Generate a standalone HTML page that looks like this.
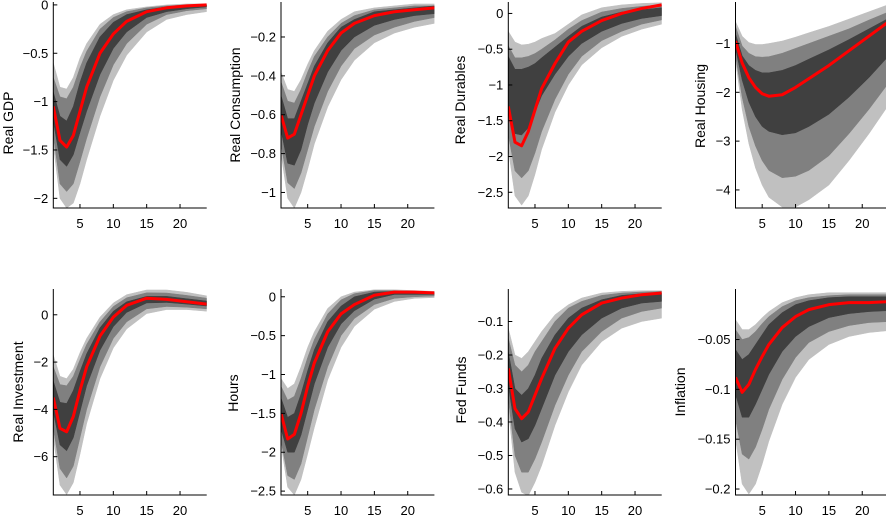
<!DOCTYPE html>
<html><head><meta charset="utf-8"><style>
html,body{margin:0;padding:0;background:#fff;width:886px;height:516px;overflow:hidden}
svg{display:block}
text{font-family:"Liberation Sans",sans-serif;fill:#000}
</style></head><body>
<svg id="chart" width="886" height="516" viewBox="0 0 886 516" xmlns="http://www.w3.org/2000/svg"></svg>
<script>
const horizons=[1,2,3,4,5,6,8,10,12,15,18,21,24];
const xTicks=[5,10,15,20];
const titles=["Real GDP","Real Consumption","Real Durables","Real Housing","Real Investment","Hours","Fed Funds","Inflation"];
const yLims=[[-2.1,0.03],[-1.08,-0.02],[-2.72,0.16],[-4.37,-0.15],[-7.62,1.09],[-2.55,0.1],[-0.618,-0.003],[-0.206,0.0007]];
const yTicks=[[0,-0.5,-1,-1.5,-2],[-0.2,-0.4,-0.6,-0.8,-1],[0,-0.5,-1,-1.5,-2,-2.5],[-1,-2,-3,-4],[0,-2,-4,-6],[0,-0.5,-1,-1.5,-2,-2.5],[-0.1,-0.2,-0.3,-0.4,-0.5,-0.6],[-0.05,-0.1,-0.15,-0.2]];
const yTickLabels=[["0","−0.5","−1","−1.5","−2"],["−0.2","−0.4","−0.6","−0.8","−1"],["0","−0.5","−1","−1.5","−2","−2.5"],["−1","−2","−3","−4"],["0","−2","−4","−6"],["0","−0.5","−1","−1.5","−2","−2.5"],["−0.1","−0.2","−0.3","−0.4","−0.5","−0.6"],["−0.05","−0.1","−0.15","−0.2"]];
const median=[
[-1.05,-1.4,-1.47,-1.35,-1.1,-0.85,-0.5,-0.3,-0.17,-0.07,-0.03,-0.01,0],
[-0.6,-0.72,-0.7,-0.6,-0.5,-0.4,-0.27,-0.18,-0.13,-0.09,-0.07,-0.06,-0.05],
[-1.3,-1.8,-1.85,-1.65,-1.35,-1.05,-0.7,-0.4,-0.25,-0.1,0,0.07,0.12],
[-0.95,-1.4,-1.7,-1.9,-2.03,-2.08,-2.05,-1.9,-1.72,-1.45,-1.15,-0.85,-0.55],
[-3.5,-4.8,-4.95,-4.3,-3.2,-2.2,-0.9,-0.1,0.4,0.7,0.65,0.55,0.45],
[-1.5,-1.83,-1.77,-1.5,-1.15,-0.85,-0.45,-0.22,-0.1,0.02,0.06,0.06,0.05],
[-0.24,-0.36,-0.39,-0.37,-0.32,-0.27,-0.18,-0.12,-0.08,-0.045,-0.03,-0.02,-0.015],
[-0.088,-0.103,-0.095,-0.08,-0.067,-0.055,-0.038,-0.027,-0.02,-0.015,-0.013,-0.013,-0.012]];
const lightUpper=[
[-0.6,-0.85,-0.87,-0.75,-0.55,-0.4,-0.2,-0.1,-0.05,-0.02,0,0.01,0.01],
[-0.38,-0.47,-0.48,-0.42,-0.34,-0.27,-0.17,-0.11,-0.07,-0.05,-0.04,-0.03,-0.03],
[-0.25,-0.4,-0.44,-0.43,-0.4,-0.35,-0.28,-0.15,-0.02,0.08,0.12,0.14,0.15],
[-0.55,-0.85,-0.98,-1.02,-1.02,-1.0,-0.95,-0.87,-0.78,-0.65,-0.5,-0.35,-0.2],
[-1.7,-2.6,-2.7,-2.3,-1.6,-1.0,-0.1,0.5,0.85,1.05,1.05,0.95,0.8],
[-1.05,-1.18,-1.12,-0.9,-0.65,-0.45,-0.15,0.0,0.06,0.09,0.09,0.08,0.07],
[-0.12,-0.2,-0.21,-0.19,-0.16,-0.13,-0.08,-0.05,-0.03,-0.015,-0.01,-0.008,-0.008],
[-0.03,-0.04,-0.04,-0.035,-0.028,-0.022,-0.013,-0.008,-0.005,-0.003,-0.003,-0.003,-0.003]];
const midUpper=[
[-0.75,-0.95,-0.97,-0.85,-0.65,-0.48,-0.25,-0.13,-0.07,-0.03,-0.01,0,0],
[-0.43,-0.53,-0.54,-0.47,-0.38,-0.3,-0.2,-0.13,-0.09,-0.06,-0.05,-0.04,-0.04],
[-0.45,-0.62,-0.62,-0.6,-0.56,-0.5,-0.37,-0.22,-0.1,0.02,0.07,0.1,0.12],
[-0.65,-1.05,-1.2,-1.27,-1.28,-1.27,-1.2,-1.1,-1.0,-0.85,-0.7,-0.52,-0.35],
[-2.2,-2.95,-3.0,-2.6,-1.9,-1.25,-0.3,0.35,0.72,0.93,0.92,0.82,0.7],
[-1.15,-1.33,-1.28,-1.05,-0.78,-0.55,-0.22,-0.04,0.04,0.08,0.08,0.07,0.06],
[-0.15,-0.23,-0.25,-0.23,-0.19,-0.16,-0.1,-0.06,-0.04,-0.022,-0.015,-0.012,-0.01],
[-0.04,-0.05,-0.048,-0.042,-0.034,-0.027,-0.017,-0.011,-0.008,-0.006,-0.005,-0.005,-0.005]];
const darkUpper=[
[-0.9,-1.15,-1.2,-1.05,-0.8,-0.6,-0.33,-0.18,-0.1,-0.05,-0.02,-0.01,0],
[-0.5,-0.62,-0.62,-0.53,-0.44,-0.35,-0.23,-0.15,-0.11,-0.07,-0.06,-0.05,-0.04],
[-0.6,-0.78,-0.78,-0.75,-0.7,-0.62,-0.47,-0.32,-0.18,-0.05,0.02,0.05,0.08],
[-0.8,-1.25,-1.45,-1.55,-1.6,-1.6,-1.55,-1.45,-1.32,-1.13,-0.92,-0.7,-0.48],
[-2.8,-3.7,-3.75,-3.2,-2.4,-1.65,-0.55,0.15,0.55,0.78,0.78,0.68,0.58],
[-1.3,-1.55,-1.5,-1.25,-0.95,-0.68,-0.32,-0.12,0.0,0.06,0.07,0.06,0.05],
[-0.19,-0.3,-0.32,-0.3,-0.26,-0.21,-0.14,-0.09,-0.06,-0.035,-0.022,-0.017,-0.015],
[-0.06,-0.07,-0.065,-0.055,-0.045,-0.035,-0.023,-0.015,-0.011,-0.008,-0.007,-0.007,-0.007]];
const darkLower=[
[-1.2,-1.6,-1.67,-1.55,-1.32,-1.1,-0.72,-0.45,-0.28,-0.13,-0.07,-0.04,-0.02],
[-0.68,-0.85,-0.86,-0.78,-0.65,-0.54,-0.38,-0.27,-0.2,-0.14,-0.11,-0.09,-0.08],
[-1.4,-1.68,-1.7,-1.6,-1.38,-1.15,-0.85,-0.6,-0.42,-0.25,-0.14,-0.07,-0.03],
[-1.1,-1.75,-2.2,-2.5,-2.7,-2.8,-2.87,-2.83,-2.7,-2.45,-2.1,-1.7,-1.25],
[-4.1,-5.5,-5.75,-5.2,-4.1,-3.0,-1.5,-0.5,0.1,0.5,0.52,0.45,0.37],
[-1.7,-2.0,-2.0,-1.78,-1.45,-1.12,-0.65,-0.35,-0.18,-0.03,0.03,0.03,0.03],
[-0.29,-0.42,-0.46,-0.45,-0.41,-0.36,-0.26,-0.19,-0.14,-0.09,-0.06,-0.045,-0.04],
[-0.105,-0.128,-0.128,-0.115,-0.1,-0.085,-0.062,-0.047,-0.037,-0.028,-0.024,-0.022,-0.021]];
const midLower=[
[-1.35,-1.85,-1.93,-1.85,-1.62,-1.38,-0.95,-0.62,-0.4,-0.2,-0.1,-0.06,-0.04],
[-0.75,-0.95,-0.98,-0.9,-0.78,-0.66,-0.48,-0.35,-0.26,-0.19,-0.15,-0.12,-0.1],
[-1.7,-2.2,-2.3,-2.2,-1.95,-1.65,-1.2,-0.85,-0.6,-0.38,-0.25,-0.15,-0.09],
[-1.25,-2.1,-2.7,-3.1,-3.4,-3.6,-3.75,-3.72,-3.6,-3.3,-2.85,-2.35,-1.8],
[-4.8,-6.5,-6.9,-6.4,-5.2,-4.0,-2.2,-1.0,-0.3,0.25,0.35,0.32,0.25],
[-1.85,-2.3,-2.35,-2.15,-1.8,-1.45,-0.9,-0.5,-0.28,-0.1,-0.02,0.0,0.01],
[-0.33,-0.5,-0.55,-0.55,-0.51,-0.46,-0.35,-0.26,-0.19,-0.13,-0.09,-0.07,-0.06],
[-0.13,-0.165,-0.17,-0.158,-0.14,-0.12,-0.09,-0.068,-0.053,-0.042,-0.036,-0.033,-0.032]];
const lightLower=[
[-1.45,-2.0,-2.1,-2.05,-1.85,-1.6,-1.15,-0.78,-0.52,-0.28,-0.15,-0.1,-0.07],
[-0.8,-1.03,-1.08,-1.0,-0.88,-0.75,-0.56,-0.42,-0.32,-0.23,-0.18,-0.15,-0.13],
[-1.9,-2.55,-2.68,-2.55,-2.25,-1.9,-1.38,-1.0,-0.72,-0.48,-0.32,-0.22,-0.15],
[-1.35,-2.35,-3.05,-3.55,-3.9,-4.15,-4.35,-4.35,-4.2,-3.9,-3.4,-2.85,-2.25],
[-5.2,-7.2,-7.6,-7.1,-5.9,-4.6,-2.7,-1.4,-0.6,0.05,0.22,0.22,0.15],
[-1.9,-2.45,-2.55,-2.35,-2.02,-1.68,-1.07,-0.65,-0.38,-0.16,-0.06,-0.02,-0.01],
[-0.36,-0.55,-0.61,-0.62,-0.58,-0.53,-0.41,-0.31,-0.23,-0.16,-0.12,-0.1,-0.09],
[-0.15,-0.195,-0.205,-0.195,-0.175,-0.152,-0.115,-0.088,-0.07,-0.055,-0.047,-0.043,-0.041]];

const NS="http://www.w3.org/2000/svg";
const svg=document.getElementById('chart');
const lefts=[53.3,281,508.3,735.5];
const tops=[2,289];
const plotH=[206,206];
const unit=6.67;
const labelPos=[[8,123],[235,105],[460,100],[700,106],[18,392],[233,393],[461,390],[680,392]];
function mk(tag,attrs,parent){const e=document.createElementNS(NS,tag);for(const k in attrs)e.setAttribute(k,attrs[k]);parent.appendChild(e);return e;}

for(let p=0;p<8;p++){
  const col=p%4,row=Math.floor(p/4);
  const L=lefts[col],T=tops[row],H=plotH[row],B=T+H;
  const [ymin,ymax]=yLims[p];
  const xs=h=>L+(h-1)*unit;
  const ys=v=>T+(ymax-v)/(ymax-ymin)*H;
  const g=mk('g',{},svg);
  
  
  const cp=mk('clipPath',{id:'cp'+p},g);
  mk('rect',{x:L,y:T,width:23*unit,height:H},cp);
  const pg=mk('g',{'clip-path':'url(#cp'+p+')'},g);
  const bands=[[lightUpper,lightLower,'#c0c0c0','band-90'],[midUpper,midLower,'#808080','band-80'],[darkUpper,darkLower,'#404040','band-68']];
  for(const [up,lo,c,nm] of bands){
    const pts=horizons.map((h,i)=>xs(h)+','+ys(up[p][i]));
    for(let i=horizons.length-1;i>=0;i--)pts.push(xs(horizons[i])+','+ys(lo[p][i]));
    const poly=mk('polygon',{points:pts.join(' '),fill:c,stroke:c,'stroke-width':0.5},pg);
    
    
  }
  const line=mk('polyline',{points:horizons.map((h,i)=>xs(h)+','+ys(median[p][i])).join(' '),fill:'none',stroke:'#ff0000','stroke-width':3,'stroke-linejoin':'round'},pg);
  
  
  const ax=mk('path',{d:`M${L},${T}V${B}H${L+23*unit}`,fill:'none',stroke:'#000','stroke-width':1},g);
  
  
  yTicks[p].forEach((v,i)=>{
    const y=ys(v);
    mk('line',{x1:L,x2:L+4,y1:y,y2:y,stroke:'#000','stroke-width':1},g);
    const t=mk('text',{x:L-5,y:y+4.5,'text-anchor':'end','font-size':13},g);
    t.textContent=yTickLabels[p][i];
    
    
  });
  xTicks.forEach(h=>{
    const x=xs(h);
    mk('line',{x1:x,x2:x,y1:B,y2:B-4,stroke:'#000','stroke-width':1},g);
    const t=mk('text',{x:x,y:B+20,'text-anchor':'middle','font-size':13},g);
    t.textContent=String(h);
    
    
  });
  const [lx,ly]=labelPos[p];
  const yl=mk('text',{x:lx,y:ly,'text-anchor':'middle','font-size':14,'dominant-baseline':'central',transform:`rotate(-90 ${lx} ${ly})`},g);
  yl.textContent=titles[p];
  
  
}
</script>
</body></html>
